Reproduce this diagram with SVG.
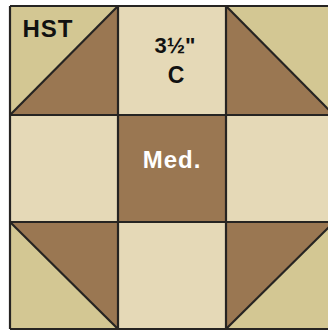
<svg xmlns="http://www.w3.org/2000/svg" width="328" height="332" viewBox="0 0 328 332">
<style>
.lt{fill:#D3C793}
.dk{fill:#9A7752}
.cr{fill:#E5D9B7}
.ln{stroke:#262422;stroke-width:2.2;fill:none}
.t{font-family:"Liberation Sans",Arial,sans-serif;font-weight:bold;text-anchor:middle}
</style>
<rect x="0" y="0" width="328" height="332" fill="#ffffff"/>
<g id="hst-tl">
<polygon class="lt" points="10,6 118,6 10,115"/>
<polygon class="dk" points="118,6 118,115 10,115"/>
<line class="ln" x1="10" y1="115" x2="118" y2="6"/>
</g>
<g id="c-top">
<rect class="cr" x="118" y="6" width="108" height="109"/>
</g>
<g id="hst-tr">
<polygon class="lt" points="226,6 334,6 334,115"/>
<polygon class="dk" points="226,6 334,115 226,115"/>
<line class="ln" x1="226" y1="6" x2="334" y2="115"/>
</g>
<g id="c-left">
<rect class="cr" x="10" y="115" width="108" height="107"/>
</g>
<g id="med">
<rect class="dk" x="118" y="115" width="108" height="107"/>
</g>
<g id="c-right">
<rect class="cr" x="226" y="115" width="108" height="107"/>
</g>
<g id="hst-bl">
<polygon class="lt" points="10,222 118,329 10,329"/>
<polygon class="dk" points="10,222 118,222 118,329"/>
<line class="ln" x1="10" y1="222" x2="118" y2="329"/>
</g>
<g id="c-bottom">
<rect class="cr" x="118" y="222" width="108" height="107"/>
</g>
<g id="hst-br">
<polygon class="lt" points="334,222 334,329 226,329"/>
<polygon class="dk" points="226,222 334,222 226,329"/>
<line class="ln" x1="226" y1="329" x2="334" y2="222"/>
</g>
<g id="grid">
<line class="ln" x1="10" y1="6" x2="334" y2="6"/>
<line class="ln" x1="10" y1="115" x2="334" y2="115"/>
<line class="ln" x1="10" y1="222" x2="334" y2="222"/>
<line class="ln" x1="10" y1="329" x2="334" y2="329"/>
<line class="ln" x1="10" y1="6" x2="10" y2="329"/>
<line class="ln" x1="118" y1="6" x2="118" y2="329"/>
<line class="ln" x1="226" y1="6" x2="226" y2="329"/>
</g>
<g id="labels">
<text class="t" x="48" y="37" font-size="24" letter-spacing="1" fill="#111">HST</text>
<text class="t" x="175" y="53" font-size="22" fill="#111">3½"</text>
<text class="t" x="176" y="83" font-size="23" fill="#111">C</text>
<text class="t" x="172" y="168" font-size="24" fill="#ffffff" letter-spacing="1">Med.</text>
</g>
</svg>
